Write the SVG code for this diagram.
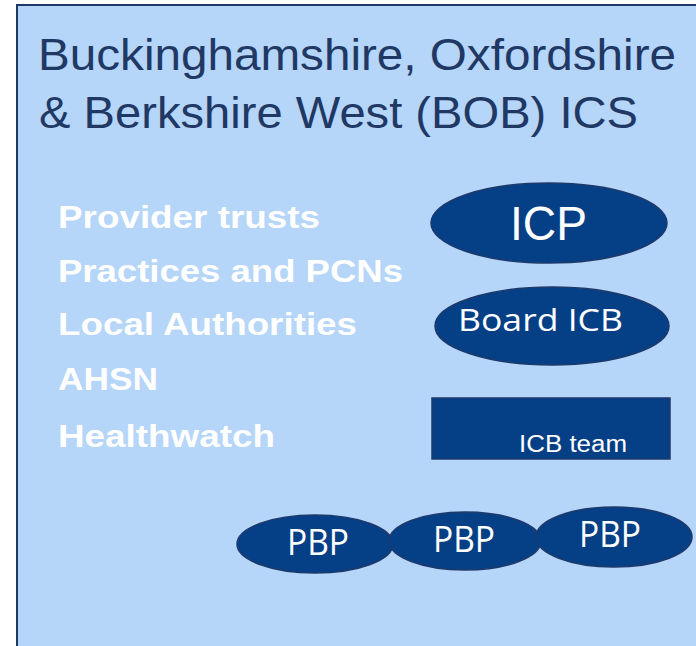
<svg xmlns="http://www.w3.org/2000/svg" width="696" height="646" viewBox="0 0 696 646">
<style>
.node{fill:#053f86;stroke:#1e3a6b;stroke-width:1.5}
.title{font-family:"Liberation Sans",Arial,sans-serif;font-size:44px;fill:#1f3864}
.list{font-family:"Liberation Sans",Arial,sans-serif;font-weight:bold;font-size:32px;fill:#ffffff}
.lbl{fill:#ffffff}
.sans{font-family:"Liberation Sans",Arial,sans-serif}
.open{font-family:"Open Sans","Noto Sans",sans-serif}
</style>
<rect x="0" y="0" width="696" height="646" fill="#ffffff"/>
<g id="frame">
<rect x="17" y="5" width="700" height="660" fill="#b5d5f9" stroke="#1f3864" stroke-width="2"/>
<text class="title" x="38" y="70" textLength="638" lengthAdjust="spacingAndGlyphs">Buckinghamshire, Oxfordshire</text>
<text class="title" x="39" y="128" textLength="599" lengthAdjust="spacingAndGlyphs">&amp; Berkshire West (BOB) ICS</text>
</g>
<g id="members">
<text class="list" x="58" y="228" textLength="262" lengthAdjust="spacingAndGlyphs">Provider trusts</text>
<text class="list" x="58" y="282" textLength="345" lengthAdjust="spacingAndGlyphs">Practices and PCNs</text>
<text class="list" x="58" y="335" textLength="299" lengthAdjust="spacingAndGlyphs">Local Authorities</text>
<text class="list" x="58" y="390" textLength="100" lengthAdjust="spacingAndGlyphs">AHSN</text>
<text class="list" x="58" y="447" textLength="217" lengthAdjust="spacingAndGlyphs">Healthwatch</text>
</g>
<g id="connectors"></g>
<g id="icp">
<ellipse class="node" cx="549" cy="223" rx="118" ry="40"/>
<text class="lbl sans" x="510" y="240" font-size="48" textLength="77" lengthAdjust="spacingAndGlyphs">ICP</text>
</g>
<g id="board-icb">
<ellipse class="node" cx="552" cy="326" rx="117" ry="39"/>
<text class="lbl open" x="458" y="331" font-size="31" textLength="165" lengthAdjust="spacingAndGlyphs">Board ICB</text>
</g>
<g id="icb-team">
<rect class="node" x="432" y="398" width="238" height="61"/>
<text class="lbl sans" x="519" y="452" font-size="23" textLength="108" lengthAdjust="spacingAndGlyphs">ICB team</text>
</g>
<g id="pbp1">
<ellipse class="node" cx="315" cy="544" rx="78" ry="29"/>
<text class="lbl open" x="287" y="555" font-size="36" textLength="62" lengthAdjust="spacingAndGlyphs">PBP</text>
</g>
<g id="pbp2">
<ellipse class="node" cx="465" cy="541" rx="76" ry="29"/>
<text class="lbl open" x="433" y="552" font-size="36" textLength="62" lengthAdjust="spacingAndGlyphs">PBP</text>
</g>
<g id="pbp3">
<ellipse class="node" cx="614" cy="537" rx="78" ry="30"/>
<text class="lbl open" x="579" y="547" font-size="36" textLength="62" lengthAdjust="spacingAndGlyphs">PBP</text>
</g>
</svg>
